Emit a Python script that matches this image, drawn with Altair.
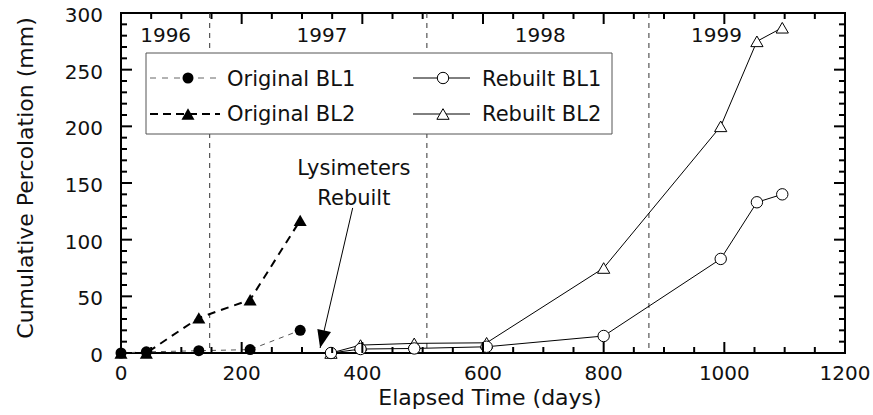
import altair as alt
import pandas as pd

# Cumulative percolation per lysimeter (elapsed days, mm)
orig_days = [0, 42, 129, 214, 297]
orig_bl1 = [0, 1, 2, 3, 20]
orig_bl2 = [0, 0, 31, 47, 117]

rebuilt_days = [348, 397, 486, 606, 800, 994, 1054, 1096]
rebuilt_bl1 = [0, 3.5, 4, 5.5, 15, 83, 133, 140]
rebuilt_bl2 = [0, 7, 8.5, 9, 75, 200, 275, 287]

# Calendar-year boundaries and labels
year_bounds = [147, 507, 875]
year_labels = ["1996", "1997", "1998", "1999"]
year_label_days = [74, 333, 695, 987]
year_label_mm = [274, 274, 274, 274]

# Annotation of the rebuild
annot_lines = ["Lysimeters", "Rebuilt"]
annot_day = [386, 386]
annot_mm = [157, 130.6]
arrow_start = (384, 128)
arrow_tip = (330, 4.4)

# Axis ticks and titles
x_ticks = list(range(0, 1201, 200))
y_ticks = list(range(0, 301, 50))
x_minor = [v for v in range(0, 1201, 50) if v % 200]
y_minor = [v for v in range(0, 301, 10) if v % 50]
x_title = "Elapsed Time (days)"
y_title = "Cumulative Percolation (mm)"

W, H = 724, 340
FONT = "DejaVu Sans"
INK = "#111"
xs = alt.Scale(domain=[0, 1200], nice=False, zero=False)
ys = alt.Scale(domain=[0, 300], nice=False, zero=False)
one = pd.DataFrame({"k": [0]})


def X(field="x"):
    return alt.X(f"{field}:Q", scale=xs, axis=None)


def Y(field="y"):
    return alt.Y(f"{field}:Q", scale=ys, axis=None)


df_o1 = pd.DataFrame({"x": orig_days, "y": orig_bl1})
df_o2 = pd.DataFrame({"x": orig_days, "y": orig_bl2})
df_r1 = pd.DataFrame({"x": rebuilt_days, "y": rebuilt_bl1})
df_r2 = pd.DataFrame({"x": rebuilt_days, "y": rebuilt_bl2})

# Tick labels and axis titles
x_labels = alt.Chart(pd.DataFrame({"t": x_ticks})).mark_text(
    font=FONT, fontSize=20, color=INK, align="center", baseline="alphabetic").encode(
    x=X("t"), y=alt.value(H + 26.5), text=alt.Text("t:Q", format="d"))
y_labels = alt.Chart(pd.DataFrame({"t": y_ticks})).mark_text(
    font=FONT, fontSize=20, color=INK, align="right", baseline="alphabetic", dy=9).encode(
    y=Y("t"), x=alt.value(-18), text=alt.Text("t:Q", format="d"))
x_title_mark = alt.Chart(one).mark_text(
    text=x_title, font=FONT, fontSize=22, color=INK, align="center",
    baseline="alphabetic").encode(x=alt.value(369), y=alt.value(392))
y_title_mark = alt.Chart(one).mark_text(
    text=y_title, font=FONT, fontSize=22, color=INK, align="center",
    baseline="alphabetic", angle=270).encode(x=alt.value(-88), y=alt.value(165))

# Inward tick marks on all four sides
tick_layers = []
for vals, length in ((x_ticks, 11), (x_minor, 6)):
    d = pd.DataFrame({"t": vals})
    tick_layers.append(alt.Chart(d).mark_rule(color="black", strokeWidth=2).encode(
        x=X("t"), y=alt.value(H), y2=alt.value(H - length)))
    tick_layers.append(alt.Chart(d).mark_rule(color="black", strokeWidth=2).encode(
        x=X("t"), y=alt.value(0), y2=alt.value(length)))
for vals, length in ((y_ticks, 11), (y_minor, 6)):
    d = pd.DataFrame({"t": vals})
    tick_layers.append(alt.Chart(d).mark_rule(color="black", strokeWidth=2).encode(
        y=Y("t"), x=alt.value(0), x2=alt.value(length)))
    tick_layers.append(alt.Chart(d).mark_rule(color="black", strokeWidth=2).encode(
        y=Y("t"), x=alt.value(W), x2=alt.value(W - length)))

# Year boundaries and labels
years = alt.Chart(pd.DataFrame({"t": year_bounds})).mark_rule(
    color="#333", strokeWidth=1, strokeDash=[5, 5]).encode(
    x=X("t"), y=alt.value(0), y2=alt.value(H))
year_text = alt.Chart(pd.DataFrame({
    "x": year_label_days, "y": year_label_mm, "label": year_labels})).mark_text(
    font=FONT, fontSize=20, color=INK, baseline="alphabetic", align="center").encode(
    x=X(), y=Y(), text="label:N")

# Legend box
legend_box = alt.Chart(one).mark_rect(fill="white", stroke="#555", strokeWidth=1).encode(
    x=alt.value(25), x2=alt.value(491), y=alt.value(40), y2=alt.value(121))


def marker(shape, filled):
    size = (170 if shape.startswith("triangle") else 121) if filled else \
        (150 if shape.startswith("triangle") else 130)
    return dict(shape=shape, size=size, filled=True,
                fill="black" if filled else "white", stroke="black",
                strokeWidth=0 if filled else 1, opacity=1)


def legend_entry(x0, x1, xm, xt, yl, yb, dash, color, width, shape, filled, label):
    line_kw = dict(color=color, strokeWidth=width)
    if dash:
        line_kw["strokeDash"] = dash
    ln = alt.Chart(one).mark_rule(**line_kw).encode(
        x=alt.value(x0), x2=alt.value(x1), y=alt.value(yl))
    pt = alt.Chart(one).mark_point(**marker(shape, filled)).encode(
        x=alt.value(xm), y=alt.value(yl))
    tx = alt.Chart(one).mark_text(
        text=label, font=FONT, fontSize=21, color=INK,
        align="left", baseline="alphabetic").encode(
        x=alt.value(xt), y=alt.value(yb))
    return [ln, pt, tx]


legend_layers = (
    legend_entry(29, 99, 67, 106, 65, 72.7, [6, 6], "#666", 1, "circle", True, "Original BL1")
    + legend_entry(29, 99, 67, 106, 101, 108, [8, 5], "black", 2, "triangle-up", True, "Original BL2")
    + legend_entry(292, 349, 322, 361, 65, 72.7, None, "black", 1, "circle", False, "Rebuilt BL1")
    + legend_entry(292, 349, 322, 361, 101, 108, None, "black", 1, "triangle-up", False, "Rebuilt BL2")
)


def series(df, dash, color, width, shape, filled):
    kw = dict(color=color, strokeWidth=width)
    if dash:
        kw["strokeDash"] = dash
    ln = alt.Chart(df).mark_line(**kw).encode(x=X(), y=Y(), order="x:Q")
    pt = alt.Chart(df).mark_point(**marker(shape, filled)).encode(x=X(), y=Y())
    return ln, pt


o1l, o1p = series(df_o1, [5, 5], "#555", 1, "circle", True)
o2l, o2p = series(df_o2, [8, 6], "black", 2, "triangle-up", True)
r1l, r1p = series(df_r1, None, "black", 1, "circle", False)
r2l, r2p = series(df_r2, None, "black", 1, "triangle-up", False)

# Annotation with arrow
annot = alt.Chart(pd.DataFrame({"x": annot_day, "y": annot_mm, "t": annot_lines})).mark_text(
    font=FONT, fontSize=21, color=INK, align="center", baseline="alphabetic").encode(
    x=X(), y=Y(), text="t:N")
arrow_df = pd.DataFrame({"x": [arrow_start[0]], "y": [arrow_start[1]],
                         "x2": [arrow_tip[0]], "y2": [arrow_tip[1]]})
arrow_line = alt.Chart(arrow_df).mark_rule(color="black", strokeWidth=1).encode(
    x=X(), y=Y(), x2="x2:Q", y2="y2:Q")
arrow_head = alt.Chart(arrow_df).mark_point(
    shape="M0,0L-0.7,-1.8L0.7,-1.8Z", size=400, filled=True, fill="black",
    strokeWidth=0, opacity=1, angle=13).encode(x=X("x2"), y=Y("y2"))

chart = alt.layer(
    years, year_text, legend_box, *legend_layers,
    o1l, o2l, r1l, r2l, o2p, o1p, r2p, r1p,
    annot, arrow_line, arrow_head, *tick_layers,
    x_labels, y_labels, x_title_mark, y_title_mark,
).properties(
    width=W, height=H,
    autosize=alt.AutoSizeParams(type="none"),
    padding={"left": 121, "top": 13, "right": 28, "bottom": 62},
    background="white",
).configure_view(stroke="black", strokeWidth=2)

chart.save("out.html", embed_options={"renderer": "svg", "actions": False})
